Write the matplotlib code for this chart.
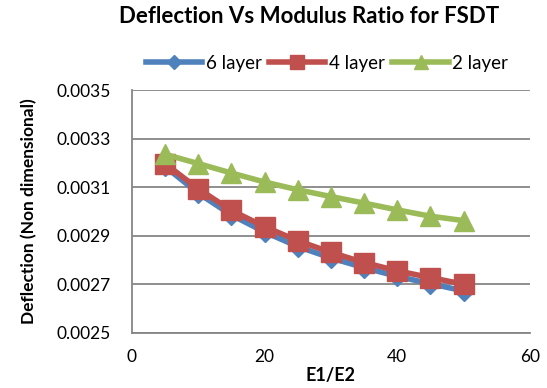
import matplotlib
matplotlib.use("Agg")
import matplotlib.pyplot as plt

ratio = [5, 10, 15, 20, 25, 30, 35, 40, 45, 50]
layer6 = [0.003185, 0.003075, 0.002985, 0.002915, 0.002855, 0.002808, 0.002768, 0.002732, 0.002702, 0.002672]
layer4 = [0.003197, 0.003093, 0.003004, 0.002937, 0.002879, 0.002831, 0.002789, 0.002755, 0.002727, 0.002700]
layer2 = [0.003235, 0.003197, 0.003158, 0.003121, 0.003089, 0.003061, 0.003034, 0.003006, 0.002980, 0.002962]
yticks = [0.0025, 0.0027, 0.0029, 0.0031, 0.0033, 0.0035]
xticks = [0, 20, 40, 60]

plt.rcParams['font.family'] = ['Lato', 'DejaVu Sans']

fig = plt.figure(figsize=(5.47, 3.88), dpi=100)
ax = fig.add_axes([0.241, 0.1425, 0.728, 0.6255])

ax.plot(ratio, layer6, color='#4F81BD', lw=4, marker='D', ms=10, label='6 layer')
ax.plot(ratio, layer4, color='#C0504D', lw=4, marker='s', ms=14, label='4 layer')
ax.plot(ratio, layer2, color='#9BBB59', lw=4, marker='^', ms=14, label='2 layer')

ax.set_xlim(0, 60)
ax.set_ylim(0.0025, 0.0035)
ax.set_xticks(xticks)
ax.set_yticks(yticks)
ax.set_yticklabels([f'{v:.4f}' for v in yticks])
ax.tick_params(length=0, labelsize=12.5)
ax.tick_params(axis='y', pad=15)
ax.tick_params(axis='x', pad=12)
ax.grid(axis='y', color='#868686', lw=1.3)
ax.set_axisbelow(True)
for s in ['top', 'right']:
    ax.spines[s].set_visible(False)
for s in ['left', 'bottom']:
    ax.spines[s].set_color('#868686')
    ax.spines[s].set_linewidth(1.3)

ax.set_xlabel('E1/E2', fontsize=13, fontweight='bold', labelpad=1)
ax.set_ylabel('Deflection (Non dimensional)', fontsize=12.5, fontweight='bold', labelpad=14)
fig.suptitle('Deflection Vs Modulus Ratio for FSDT', x=0.565, y=0.985, fontsize=16, fontweight='bold')

leg = ax.legend(loc='lower center', bbox_to_anchor=(0.49, 1.02), ncol=3, frameon=False,
                fontsize=13.5, handlelength=3.0, handletextpad=0.2, columnspacing=0.4,
                markerscale=0.7, borderaxespad=0.3)

fig.savefig('out.png', dpi=100)
